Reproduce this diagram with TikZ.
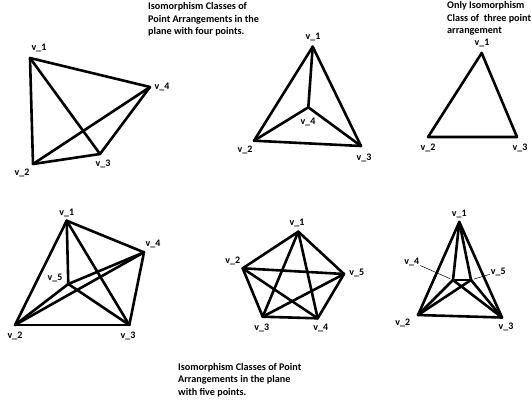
\documentclass[tikz,border=0pt]{standalone}
\usepackage{fontspec}
\setmainfont{Carlito}
\tikzset{ed/.style={line width=2.6bp,line cap=round,line join=round},lab/.style={inner sep=1bp,font=\bfseries\fontsize{10}{12}\selectfont},title/.style={anchor=north west,inner sep=0pt,align=left,font=\bfseries\fontsize{10.2}{12.5}\selectfont},lead/.style={line width=0.5bp}}

\begin{document}
\begin{tikzpicture}[x=1bp,y=-1bp]
\useasboundingbox (0,0) rectangle (532,401);
% four points, one inside the triangle or not
\coordinate (a1) at (30,58);\coordinate (a2) at (33,164);\coordinate (a3) at (100,154);\coordinate (a4) at (150,87);
\node[lab] (la1) at (39,48) {v\_1};\node[lab] (la2) at (22,173) {v\_2};\node[lab] (la3) at (103,164) {v\_3};\node[lab] (la4) at (162,87) {v\_4};
\foreach \p/\q in {a1/a2,a1/a3,a1/a4,a2/a3,a2/a4,a3/a4} \draw[ed] (\p)--(\q);
\coordinate (b1) at (312.7,46.7);\coordinate (b2) at (254,140.7);\coordinate (b3) at (361,146);\coordinate (b4) at (308.3,107.3);
\node[lab] (lb1) at (313,37) {v\_1};\node[lab] (lb2) at (245,150) {v\_2};\node[lab] (lb3) at (364,158) {v\_3};\node[lab] (lb4) at (308,122) {v\_4};
\foreach \p/\q in {b1/b2,b1/b3,b1/b4,b2/b3,b2/b4,b3/b4} \draw[ed] (\p)--(\q);
\node[title] (t4) at (148,2.5) {Isomorphism Classes of\\Point Arrangements in the\\plane with four points.};
% three points
\coordinate (c1) at (481.7,53);\coordinate (c2) at (428,137);\coordinate (c3) at (517,137);
\node[lab] (lc1) at (482,43) {v\_1};\node[lab] (lc2) at (428,148) {v\_2};\node[lab] (lc3) at (520,148) {v\_3};
\draw[ed] (c1)--(c2)--(c3)--cycle;
\node[title] (t3) at (447,1.5) {Only Isomorphism\\Class of\ \ three point\\arrangement};
% five points
\coordinate (d1) at (66.7,220.7);\coordinate (d2) at (15,325);\coordinate (d3) at (129.3,325);\coordinate (d4) at (144,252.3);\coordinate (d5) at (68.3,284);
\node[lab] (ld1) at (66.7,213) {v\_1};\node[lab] (ld2) at (15,336) {v\_2};\node[lab] (ld3) at (128,336) {v\_3};\node[lab] (ld4) at (153,244) {v\_4};\node[lab] (ld5) at (55,278) {v\_5};
\foreach \p/\q in {d1/d2,d1/d3,d1/d4,d1/d5,d2/d3,d2/d4,d2/d5,d3/d4,d3/d5,d4/d5} \draw[ed] (\p)--(\q);
\coordinate (e1) at (298.3,231.7);\coordinate (e2) at (242.7,268.3);\coordinate (e3) at (262.7,316.7);\coordinate (e4) at (317.7,318.3);\coordinate (e5) at (344,274);
\node[lab] (le1) at (297,223) {v\_1};\node[lab] (le2) at (232.7,261) {v\_2};\node[lab] (le3) at (261.7,327.7) {v\_3};\node[lab] (le4) at (320.7,328.3) {v\_4};\node[lab] (le5) at (356.7,273.3) {v\_5};
\foreach \p/\q in {e1/e2,e1/e3,e1/e4,e1/e5,e2/e3,e2/e4,e2/e5,e3/e4,e3/e5,e4/e5} \draw[ed] (\p)--(\q);
\coordinate (f1) at (459.3,222);\coordinate (f2) at (418,315);\coordinate (f3) at (502,317.5);\coordinate (f4) at (453,280);\coordinate (f5) at (471,280);
\node[lab] (lf1) at (459.3,214) {v\_1};\node[lab] (lf2) at (402.7,323.3) {v\_2};\node[lab] (lf3) at (506,327) {v\_3};\node[lab] (lf4) at (411.7,261.7) {v\_4};\node[lab] (lf5) at (498.3,271.7) {v\_5};
\foreach \p/\q in {f1/f2,f1/f3,f1/f4,f1/f5,f2/f3,f2/f4,f2/f5,f3/f4,f3/f5,f4/f5} \draw[ed] (\p)--(\q);
\draw[lead,shorten >=3bp] (lf4)--(f4);\draw[lead,shorten >=3bp] (lf5)--(f5);
\node[title] (t5) at (178,363) {Isomorphism Classes of Point\\Arrangements in the plane\\with five points.};
\end{tikzpicture}
\end{document}
